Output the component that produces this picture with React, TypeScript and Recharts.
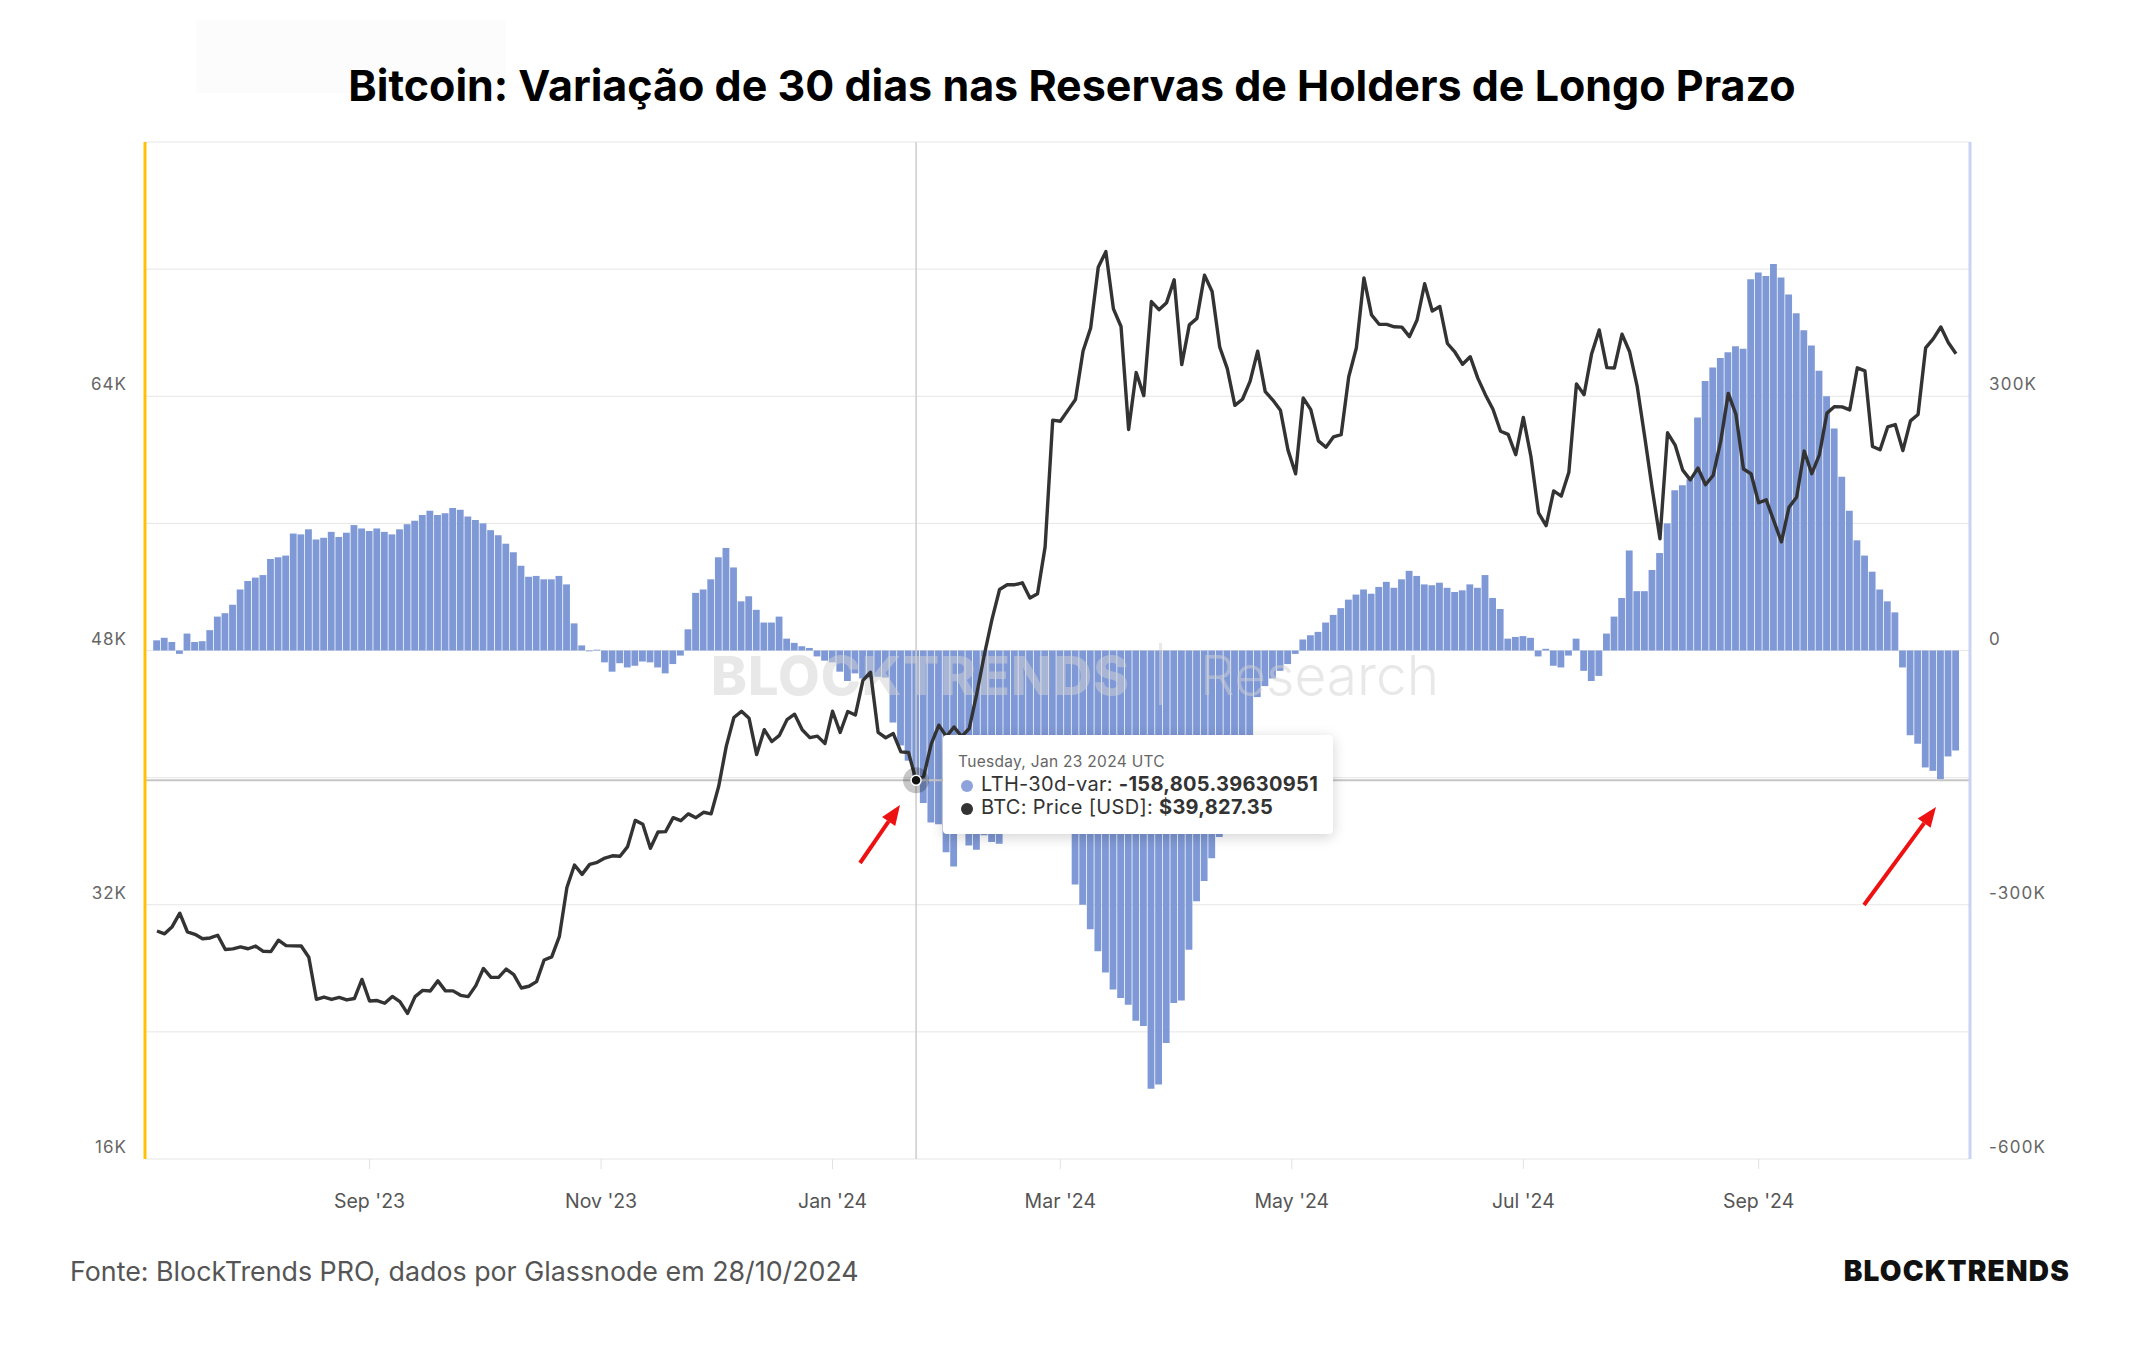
import React from 'react'
import {
  ComposedChart,
  Bar,
  Line,
  XAxis,
  YAxis,
  CartesianGrid,
  Tooltip,
  ReferenceLine,
  ReferenceDot,
} from 'recharts'

// one sample every 2 days, starting 7 Jul 2023 (UTC)
const START_UTC = Date.UTC(2023, 6, 7)
const STEP_DAYS = 2
const DAY_MS = 86400000

// BTC: Price [USD]
const btcPrice = [
  30350, 30170, 30620, 31470, 30300, 30140, 29860, 29910, 30080, 29180, // Jul '23
  29220, 29350, 29230, 29400, 29070, 29050, 29770, 29430, 29410, 29400, // Aug
  28700, 26050, 26190, 26040, 26170, 26010, 26100, 27300, 25940, 25970, // Sep
  25800, 26230, 25900, 25160, 26220, 26610, 26570, 27210, 26580, 26580,
  26300, 26220, 26910, 27990, 27430, 27430, 27950, 27600, 26760, 26870, // Oct
  27160, 28520, 28720, 29990, 33090, 34500, 33910, 34540, 34670, 34940, // Nov
  35080, 35050, 35660, 37310, 37070, 35550, 36580, 36600, 37480, 37290,
  37720, 37480, 37820, 37720, 39460, 41980, 43780, 44170, 43730, 41450, // Dec
  43020, 42270, 42660, 43650, 43990, 43010, 42520, 42610, 42150, 44180, // Jan '24
  42840, 44160, 43940, 46120, 46630, 42850, 42510, 42770, 41620, 41580,
  39827.35, 40080, 42120, 43300, 42580, 43190, 42580, 43090, 45290, 47750, // Feb
  49960, 51840, 52140, 52140, 52260, 51300, 51570, 54520, 62500, 62430, // Mar
  63110, 63800, 66850, 68300, 72120, 73100, 69500, 68390, 61910, 65490,
  64040, 69960, 69450, 69890, 71330, 65990, 68490, 68900, 71620, 70590, // Apr
  67100, 65740, 63430, 63810, 64940, 66840, 64290, 63760, 63120, 60610,
  59120, 63890, 63160, 61190, 60790, 61450, 61580, 65230, 67040, 71450, // May
  69120, 68530, 68520, 68370, 68350, 67750, 68800, 71080, 69360, 69650, // Jun
  67320, 66770, 66010, 66490, 65140, 64100, 63180, 61800, 61600, 60320,
  62670, 60210, 56660, 55860, 58040, 57720, 59220, 64780, 64100, 66680, // Jul
  68170, 65800, 65780, 67910, 66800, 64620, 61420, 58120, 55030, 61700, // Aug
  60930, 59350, 58740, 59480, 58430, 59010, 61160, 64180, 62880, 59420,
  59120, 57300, 57480, 56160, 54840, 57020, 57650, 60550, 59130, 60310, // Sep
  62940, 63350, 63330, 63140, 65790, 65600, 60840, 60630, 62070, 62220, // Oct
  60580, 62450, 62850, 67040, 67610, 68360, 67370, 66680,
]

// LTH-30d-var (BTC)
const lthVar30d = [
  12000, 15000, 10000, -4000, 20000, 10000, 11000, 24000, 40000, 44000,
  54000, 72000, 82000, 86000, 89000, 108000, 110000, 112000, 138000, 137000,
  143000, 131000, 133000, 140000, 134000, 139000, 148000, 144000, 141000, 144000,
  140000, 137000, 143000, 149000, 153000, 160000, 165000, 160000, 162000, 168000,
  166000, 158000, 154000, 150000, 142000, 136000, 126000, 116000, 100000, 87000,
  88000, 84000, 84000, 88000, 78000, 32000, 6000, -1000, 1000, -14000,
  -25000, -15000, -20000, -18000, -13000, -14000, -20000, -27000, -16000, -6000,
  25000, 68000, 72000, 84000, 110000, 121000, 98000, 58000, 64000, 48000,
  33000, 33000, 40000, 14000, 9000, 5000, 3000, -7000, -12000, -14000,
  -25000, -36000, -27000, -33000, -33000, -31000, -32000, -85000, -112000, -130000,
  -158805.39630951, -180000, -203000, -205000, -238000, -255000, -215000, -230000, -235000, -218000,
  -226000, -228000, -205000, -200000, -196000, -190000, -185000, -190000, -198000, -205000,
  -210000, -276000, -300000, -329000, -355000, -380000, -400000, -410000, -418000, -437000,
  -443000, -517000, -512000, -463000, -416000, -413000, -353000, -296000, -272000, -245000,
  -220000, -200000, -175000, -150000, -120000, -55000, -42000, -33000, -24000, -16000,
  -4000, 13000, 18000, 22000, 33000, 42000, 50000, 60000, 66000, 72000,
  67000, 75000, 81000, 74000, 84000, 94000, 88000, 78000, 77000, 80000,
  74000, 69000, 71000, 78000, 74000, 89000, 62000, 49000, 14000, 16000,
  17000, 15000, -7000, 2000, -18000, -20000, -6000, 14000, -24000, -36000,
  -30000, 20000, 40000, 62000, 118000, 70000, 70000, 95000, 115000, 150000,
  189000, 195000, 202000, 275000, 318000, 334000, 345000, 352000, 359000, 356000,
  438000, 446000, 442000, 456000, 440000, 420000, 398000, 378000, 360000, 330000,
  300000, 262000, 205000, 165000, 130000, 112000, 93000, 72000, 58000, 45000,
  -20000, -100000, -110000, -138000, -142000, -152000, -125000, -118000,
]

const monthTicks = [
  Date.UTC(2023, 8, 1),
  Date.UTC(2023, 10, 1),
  Date.UTC(2024, 0, 1),
  Date.UTC(2024, 2, 1),
  Date.UTC(2024, 4, 1),
  Date.UTC(2024, 6, 1),
  Date.UTC(2024, 8, 1),
]
const MONTHS = ['Jan', 'Feb', 'Mar', 'Apr', 'May', 'Jun', 'Jul', 'Aug', 'Sep', 'Oct', 'Nov', 'Dec']
const WEEKDAYS = ['Sunday', 'Monday', 'Tuesday', 'Wednesday', 'Thursday', 'Friday', 'Saturday']

const priceTicks = [16000, 24000, 32000, 40000, 48000, 56000, 64000, 72000, 80000]
const priceLabels = [16000, 32000, 48000, 64000]
const lthTicks = [-600000, -450000, -300000, -150000, 0, 150000, 300000, 450000, 600000]
const lthLabels = [-600000, -300000, 0, 300000]

const HIGHLIGHT_INDEX = 100

const data = btcPrice.map((price, i) => ({
  t: START_UTC + i * STEP_DAYS * DAY_MS,
  price,
  lth: lthVar30d[i],
}))
const highlight = data[HIGHLIGHT_INDEX]

const FONT = 'Inter, "Noto Sans", sans-serif'
const BAR_COLOR = '#7f99d6'
const PRICE_DOMAIN: [number, number] = [16000, 80000]
const X_PADDING = { left: 12, right: 14 }

const fmtK = (v: number) => (v === 0 ? '0' : `${v / 1000}K`)
const fmtMonth = (t: number) => {
  const d = new Date(t)
  return `${MONTHS[d.getUTCMonth()]} '${String(d.getUTCFullYear()).slice(2)}`
}

function PriceTick({ x, y, payload }: any) {
  if (!priceLabels.includes(payload.value)) return <g />
  return (
    <text x={x} y={y - 12} textAnchor="end" dominantBaseline="central" fill="#666" fontSize={17} fontFamily={FONT} letterSpacing={1}>
      {fmtK(payload.value)}
    </text>
  )
}

function LthTick({ x, y, payload }: any) {
  if (!lthLabels.includes(payload.value)) return <g />
  return (
    <text x={x} y={y - 12} textAnchor="start" dominantBaseline="central" fill="#666" fontSize={17} fontFamily={FONT} letterSpacing={1.2}>
      {fmtK(payload.value)}
    </text>
  )
}

function MonthTick({ x, y, payload }: any) {
  return (
    <text x={x} y={y + 30} textAnchor="middle" dominantBaseline="central" fill="#555" fontSize={19.5} fontFamily={FONT}>
      {fmtMonth(payload.value)}
    </text>
  )
}

function HoverBox({ active, payload }: any) {
  if (!active || !payload || !payload.length) return null
  const row = payload[0].payload
  const d = new Date(row.t)
  const when = `${WEEKDAYS[d.getUTCDay()]}, ${MONTHS[d.getUTCMonth()]} ${d.getUTCDate()} ${d.getUTCFullYear()} UTC`
  const dot = (c: string) => (
    <span style={{ display: 'inline-block', width: 12, height: 12, borderRadius: 6, background: c, margin: '0 8px 0 3px', verticalAlign: -1 }} />
  )
  return (
    <div
      style={{
        width: 390,
        height: 99,
        boxSizing: 'border-box',
        background: '#fff',
        borderRadius: 4,
        boxShadow: '0 3px 14px rgba(0,0,0,0.18)',
        padding: '16px 0 0 15px',
        fontFamily: FONT,
        color: '#333',
        whiteSpace: 'nowrap',
      }}
    >
      <div style={{ fontSize: 15.5, lineHeight: '22px', color: '#666', letterSpacing: 0.3 }}>{when}</div>
      <div style={{ fontSize: 20, lineHeight: '23px', letterSpacing: 0.3 }}>
        {dot('#8ea2dc')}LTH-30d-var: <b>{row.lth.toLocaleString('en-US', { maximumFractionDigits: 8 })}</b>
      </div>
      <div style={{ fontSize: 20, lineHeight: '23px', letterSpacing: 0.3 }}>
        {dot('#333')}BTC: Price [USD]: <b>${row.price.toLocaleString('en-US', { minimumFractionDigits: 2 })}</b>
      </div>
    </div>
  )
}

function Arrow({ x1, y1, x2, y2 }: { x1: number; y1: number; y2: number; x2: number }) {
  const a = Math.atan2(y2 - y1, x2 - x1)
  const len = 20
  const half = 8
  const bx = x2 - len * Math.cos(a)
  const by = y2 - len * Math.sin(a)
  const px = -Math.sin(a) * half
  const py = Math.cos(a) * half
  return (
    <g>
      <line x1={x1} y1={y1} x2={bx} y2={by} stroke="#ee1111" strokeWidth={4} />
      <polygon points={`${x2},${y2} ${bx + px},${by + py} ${bx - px},${by - py}`} fill="#ee1111" />
    </g>
  )
}

const layer: React.CSSProperties = { position: 'absolute', left: 0, top: 0 }

export default function App() {
  return (
    <div style={{ position: 'absolute', left: 0, top: 0, width: 2144, height: 1350, background: '#fff', overflow: 'hidden' }}>
      <div style={{ position: 'absolute', left: 196, top: 20, width: 310, height: 73, background: '#fcfcfc' }} />
      <div
        style={{
          position: 'absolute',
          left: 0,
          top: 60,
          width: 2144,
          textAlign: 'center',
          fontFamily: FONT,
          fontWeight: 700,
          fontSize: 43,
          lineHeight: '50px',
          color: '#000',
        }}
      >
        Bitcoin: Variação de 30 dias nas Reservas de Holders de Longo Prazo
      </div>

      {/* bars, grid and axes */}
      <div style={layer}>
        <ComposedChart width={2144} height={1350} data={data} margin={{ top: 142, right: 114, bottom: 141, left: 85 }}>
          <CartesianGrid yAxisId="price" vertical={false} stroke="#e6e6e6" strokeWidth={1} />
          <XAxis
            dataKey="t"
            type="number"
            domain={['dataMin', 'dataMax']}
            ticks={monthTicks}
            tick={<MonthTick />}
            padding={X_PADDING}
            axisLine={false}
            tickLine={{ stroke: '#e2e2e2' }}
            tickSize={10}
            height={50}
            interval={0}
          />
          <YAxis
            yAxisId="price"
            orientation="left"
            domain={PRICE_DOMAIN}
            ticks={priceTicks}
            allowDataOverflow
            width={60}
            axisLine={{ stroke: '#ffc107', strokeWidth: 3 }}
            tickLine={false}
            tickSize={0}
            tickMargin={18}
            tick={<PriceTick />}
            interval={0}
          />
          <YAxis
            yAxisId="lth"
            orientation="right"
            domain={[-600000, 600000]}
            ticks={lthTicks}
            allowDataOverflow
            width={60}
            axisLine={{ stroke: '#c8d4f1', strokeWidth: 3 }}
            tickLine={false}
            tickSize={0}
            tickMargin={19}
            tick={<LthTick />}
            interval={0}
          />
          <Bar yAxisId="lth" dataKey="lth" name="LTH-30d-var" fill={BAR_COLOR} barSize={8} isAnimationActive={false} />
          <ReferenceLine yAxisId="price" x={highlight.t} stroke="#cccccc" strokeWidth={1.5} />
          <ReferenceLine yAxisId="price" y={highlight.price} stroke="#c6c6c6" strokeWidth={2} />
        </ComposedChart>
      </div>

      {/* watermark sits over the bars, under the price line */}
      <svg width={2144} height={1350} style={{ ...layer, pointerEvents: 'none' }}>
        <text x={711} y={695} fontFamily={FONT} fontWeight={800} fontSize={54} fill="#d2d2d2" fillOpacity={0.5} letterSpacing={1}>
          BLOCKTRENDS
        </text>
        <rect x={1159} y={643} width={3} height={62} fill="#d2d2d2" fillOpacity={0.5} />
        <text x={1200} y={695} fontFamily={FONT} fontWeight={300} fontSize={55} fill="#d2d2d2" fillOpacity={0.5}>
          Research
        </text>
      </svg>

      {/* price line, hover marker and tooltip */}
      <div style={layer}>
        <ComposedChart width={2144} height={1350} data={data} margin={{ top: 142, right: 174, bottom: 191, left: 145 }}>
          <XAxis dataKey="t" type="number" domain={['dataMin', 'dataMax']} padding={X_PADDING} hide />
          <YAxis yAxisId="price" domain={PRICE_DOMAIN} allowDataOverflow hide />
          <Line
            yAxisId="price"
            dataKey="price"
            name="BTC: Price [USD]"
            type="linear"
            stroke="#333"
            strokeWidth={3.4}
            strokeLinejoin="round"
            dot={false}
            activeDot={false}
            isAnimationActive={false}
          />
          <ReferenceDot yAxisId="price" x={highlight.t} y={highlight.price} r={13} fill="rgba(0,0,0,0.22)" stroke="none" />
          <ReferenceDot yAxisId="price" x={highlight.t} y={highlight.price} r={5} fill="#111" stroke="#fff" strokeWidth={1.5} />
          <Tooltip
            active
            defaultIndex={HIGHLIGHT_INDEX}
            cursor={false}
            position={{ x: 943, y: 735 }}
            content={<HoverBox />}
            isAnimationActive={false}
            wrapperStyle={{ pointerEvents: 'none', zIndex: 5 }}
          />
        </ComposedChart>
      </div>

      <svg width={2144} height={1350} style={{ ...layer, pointerEvents: 'none' }}>
        <Arrow x1={860} y1={863} x2={900} y2={805} />
        <Arrow x1={1864} y1={905} x2={1936} y2={807} />
      </svg>

      <div
        style={{
          position: 'absolute',
          left: 70,
          top: 1256,
          fontFamily: FONT,
          fontSize: 26.8,
          lineHeight: '30px',
          color: '#555',
        }}
      >
        Fonte: BlockTrends PRO, dados por Glassnode em 28/10/2024
      </div>
      <div
        style={{
          position: 'absolute',
          right: 74,
          top: 1256,
          fontFamily: FONT,
          fontSize: 28,
          fontWeight: 900,
          lineHeight: '30px',
          color: '#111',
          letterSpacing: 1.2,
        }}
      >
        BLOCKTRENDS
      </div>
    </div>
  )
}
